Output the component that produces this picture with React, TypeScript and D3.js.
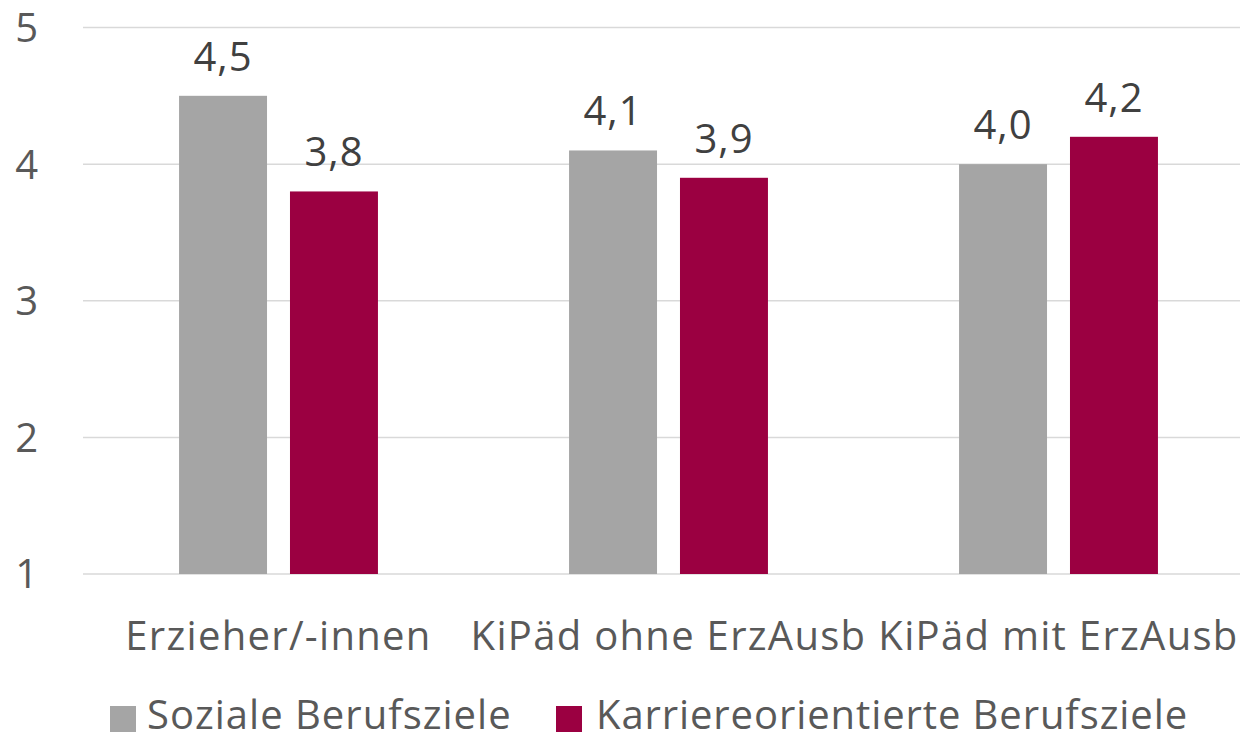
import React from 'react';
import * as d3 from 'd3';

// chart data
const categories = ['Erzieher/-innen', 'KiPäd ohne ErzAusb', 'KiPäd mit ErzAusb'];
const seriesNames = ['Soziale Berufsziele', 'Karriereorientierte Berufsziele'];
const sozialeValues = [4.5, 4.1, 4.0];
const karriereValues = [3.8, 3.9, 4.2];
const yTicks = [1, 2, 3, 4, 5];

const colorArray = ['#A5A5A5', '#9B0041'];
const fontFamily = '"Open Sans", sans-serif';

export default function App() {
  const width = 1240, height = 734;

  // plot area runs a bit past the right edge like in the original export
  let x0 = d3.scaleBand<string>()
    .domain(categories)
    .range([83.5, 1253.5])
    .paddingInner(0.49)
    .paddingOuter(0.245);

  let x1 = d3.scaleBand<string>()
    .domain(seriesNames)
    .range([0, x0.bandwidth()])
    .paddingInner(0.207)
    .paddingOuter(0);

  let y = d3.scaleLinear().domain([1, 5]).range([574, 27.5]);

  const fmt = (v: number) => d3.format('.1f')(v).replace('.', ',');
  const seriesValues = [sozialeValues, karriereValues];

  return (
    <svg width={width} height={height} style={{ position: 'absolute', left: 0, top: 0 }}
         fontFamily={fontFamily}>
      <rect width={width} height={height} fill="#fff" />

      {/* grid lines */}
      {yTicks.map(t => (
        <line key={'g' + t} x1={83} x2={width} y1={y(t)} y2={y(t)} stroke="#D9D9D9" strokeWidth={1.5} />
      ))}

      {/* y tick labels */}
      {yTicks.map(t => (
        <text key={'t' + t} x={38} y={y(t)} dy="0.36em" textAnchor="end" fontSize={40} fill="#595959">{t}</text>
      ))}

      {/* bars + value labels */}
      {categories.map((c, i) => (
        <g key={c} transform={'translate(' + x0(c) + ',0)'}>
          {seriesNames.map((s, j) => {
            const v = seriesValues[j][i];
            return (
              <g key={s}>
                <rect x={x1(s)} y={y(v)} width={x1.bandwidth()} height={y(1) - y(v)} fill={colorArray[j]} />
                <text x={(x1(s) as number) + x1.bandwidth() / 2} y={y(v) - 25} textAnchor="middle"
                      fontSize={40} letterSpacing={1} fill="#404040">{fmt(v)}</text>
              </g>
            );
          })}
        </g>
      ))}

      {/* category labels */}
      {categories.map(c => (
        <text key={'c' + c} x={(x0(c) as number) + x0.bandwidth() / 2} y={650} textAnchor="middle"
              fontSize={40} letterSpacing={1.3} fill="#595959">{c}</text>
      ))}

      {/* legend */}
      <rect x={110} y={706} width={26} height={26} fill={colorArray[0]} />
      <text x={147} y={729} fontSize={40} letterSpacing={1} fill="#595959">{seriesNames[0]}</text>
      <rect x={556} y={706} width={26} height={26} fill={colorArray[1]} />
      <text x={596} y={729} fontSize={40} letterSpacing={0.9} fill="#595959">{seriesNames[1]}</text>
    </svg>
  );
}
